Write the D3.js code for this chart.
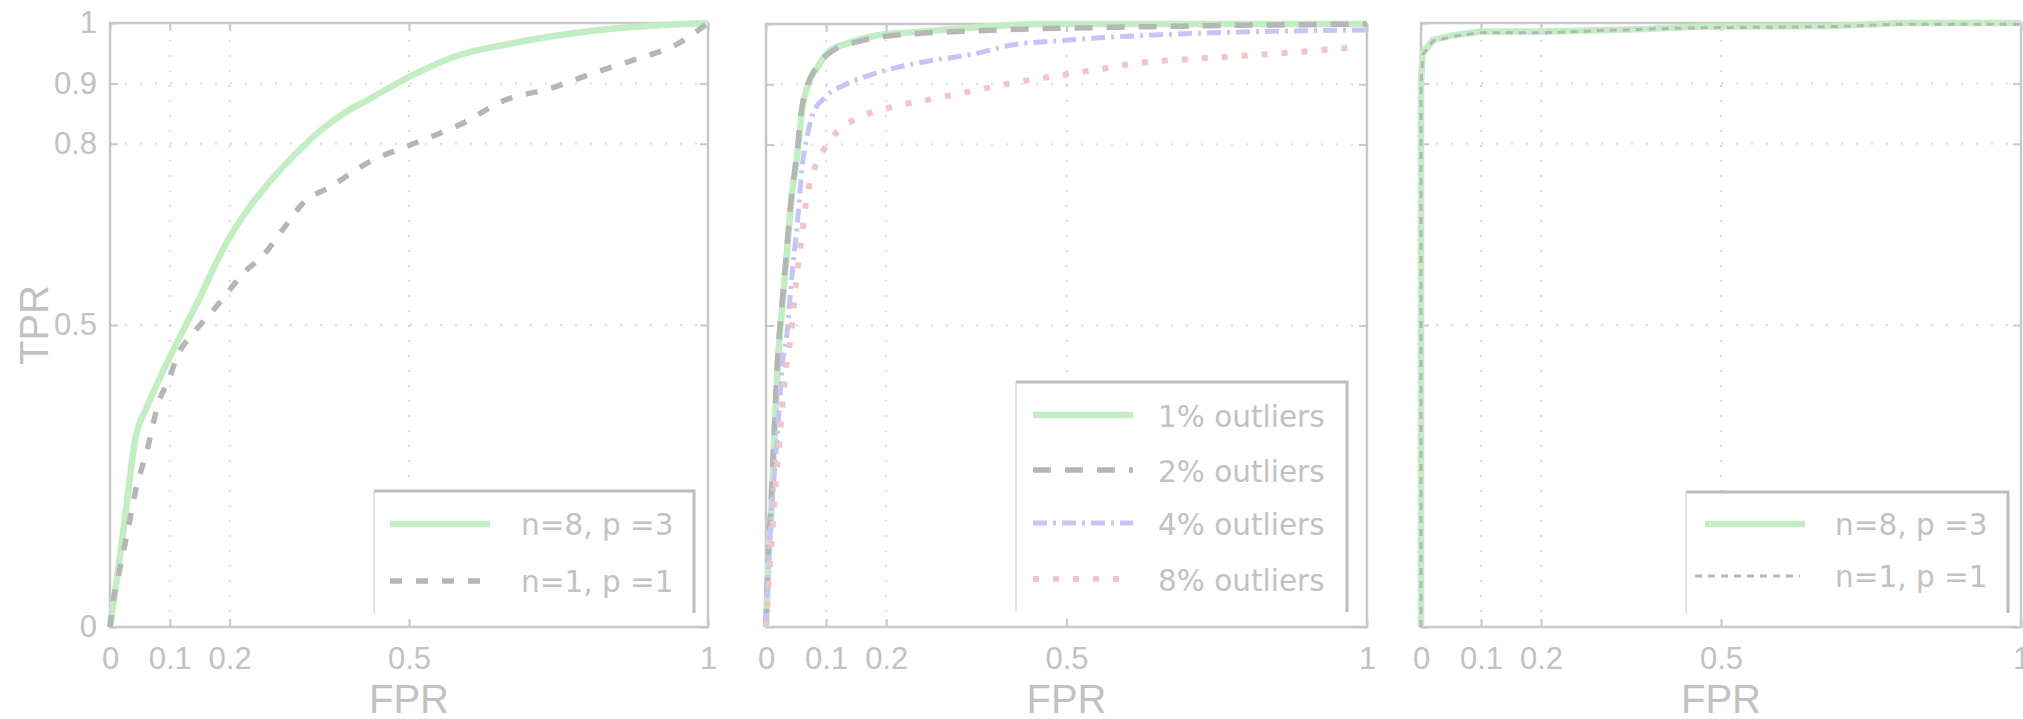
<html>
<head>
<script src="https://d3js.org/d3.v7.min.js"></script>
<style>
  body { margin: 0; background: white; }
  .tick text { fill: #c2c2c2; font: 31px "Liberation Sans", Arial, sans-serif; }
  .lbl { fill: #c2c2c2; font: 40px "Liberation Sans", Arial, sans-serif; }
  .leg { fill: #c2c2c2; font: 29.5px "DejaVu Sans", sans-serif; }
</style>
</head>
<body>
<svg width=2023 height=719></svg>
<script>
// tick values (same on all three panels)
var xTicks = [0, 0.1, 0.2, 0.5, 1];
var yTicks = [0, 0.5, 0.8, 0.9, 1];

// panel 1: n=8,p=3 vs n=1,p=1
var fpr_p1_n8 = [0, 0.012, 0.023, 0.033, 0.042, 0.06, 0.08, 0.104, 0.127, 0.154, 0.177, 0.2, 0.231, 0.261, 0.315, 0.353, 0.4, 0.43, 0.469, 0.507, 0.584, 0.66, 0.814, 1];
var tpr_p1_n8 = [0, 0.083, 0.166, 0.245, 0.31, 0.36, 0.405, 0.455, 0.5, 0.553, 0.602, 0.645, 0.692, 0.73, 0.788, 0.823, 0.856, 0.872, 0.894, 0.914, 0.947, 0.964, 0.988, 1];
var fpr_p1_n1 = [0, 0.004, 0.015, 0.031, 0.042, 0.062, 0.081, 0.1, 0.111, 0.139, 0.169, 0.2, 0.223, 0.254, 0.292, 0.323, 0.369, 0.43, 0.507, 0.584, 0.66, 0.737, 0.814, 0.876, 0.952, 1];
var tpr_p1_n1 = [0, 0.033, 0.089, 0.166, 0.222, 0.293, 0.371, 0.414, 0.445, 0.486, 0.52, 0.558, 0.586, 0.613, 0.662, 0.702, 0.729, 0.768, 0.8, 0.831, 0.872, 0.892, 0.919, 0.939, 0.967, 1];

// panel 2: outlier fractions
var fpr_o1 = [0, 0.004, 0.009, 0.0145, 0.02, 0.028, 0.035, 0.042, 0.053, 0.06, 0.07, 0.085, 0.105, 0.133, 0.196, 0.238, 0.469, 1];
var tpr_o1 = [0, 0.11, 0.194, 0.331, 0.443, 0.541, 0.624, 0.707, 0.79, 0.856, 0.9, 0.927, 0.955, 0.967, 0.983, 0.986, 1, 1];
var fpr_o2 = [0, 0.003, 0.008, 0.014, 0.019, 0.027, 0.034, 0.042, 0.052, 0.058, 0.068, 0.085, 0.11, 0.15, 0.203, 0.386, 0.6, 1];
var tpr_o2 = [0, 0.1, 0.2, 0.33, 0.44, 0.54, 0.62, 0.71, 0.79, 0.85, 0.895, 0.93, 0.955, 0.97, 0.98, 0.99, 0.995, 1];
var fpr_o4 = [0, 0.002, 0.0075, 0.018, 0.028, 0.035, 0.042, 0.053, 0.06, 0.067, 0.078, 0.098, 0.133, 0.169, 0.218, 0.273, 0.344, 0.414, 0.484, 0.554, 0.764, 1];
var tpr_o4 = [0, 0.056, 0.166, 0.305, 0.442, 0.487, 0.57, 0.679, 0.762, 0.806, 0.851, 0.878, 0.9, 0.914, 0.928, 0.939, 0.95, 0.966, 0.972, 0.977, 0.986, 0.99];
var fpr_o8 = [0, 0.002, 0.011, 0.022, 0.035, 0.042, 0.05, 0.06, 0.067, 0.081, 0.098, 0.12, 0.155, 0.204, 0.273, 0.344, 0.414, 0.484, 0.554, 0.624, 0.694, 0.834, 0.99];
var tpr_o8 = [0, 0.033, 0.166, 0.305, 0.442, 0.487, 0.57, 0.652, 0.707, 0.762, 0.795, 0.823, 0.845, 0.861, 0.875, 0.889, 0.903, 0.914, 0.925, 0.936, 0.941, 0.95, 0.962];

// panel 3
var fpr_p3_n8 = [0, 0, 0, 0.003, 0.02, 0.055, 0.1, 0.205, 0.376, 0.46, 0.683, 0.8, 1];
var tpr_p3_n8 = [0, 0.45, 0.9, 0.95, 0.972, 0.98, 0.986, 0.986, 0.99, 0.994, 0.995, 1, 1];
var fpr_p3_n1 = [0, 0, 0.003, 0.02, 0.055, 0.1, 0.205, 0.376, 0.46, 0.683, 0.8, 1];
var tpr_p3_n1 = [0, 0.9, 0.948, 0.97, 0.978, 0.984, 0.984, 0.99, 0.992, 0.994, 0.998, 0.998];

var legend1 = ["n=8, p =3", "n=1, p =1"];
var legend2 = ["1% outliers", "2% outliers", "4% outliers", "8% outliers"];

var green = {stroke: "#c3edc3", width: 6.5, dash: null};
var grayA = {stroke: "#b6b6b6", width: 5.5, dash: "12,14"};
var grayB = {stroke: "#b6b6b6", width: 5.5, dash: "18,14"};
var grayC = {stroke: "#b6b6b6", width: 3, dash: "7,6"};
var blue = {stroke: "#c6c6f6", width: 5, dash: "14,6,3,6"};
var red = {stroke: "#f1c6c6", width: 6, dash: "6,14"};

var svg = d3.select("svg");
var bottom = 627;
var axisCol = "#c8c8c8";

function panel(left, right, top, series, showY, smooth, leg) {
  var x = d3.scaleLinear().domain([0, 1]).range([left, right]);
  var y = d3.scaleLinear().domain([0, 1]).range([bottom, top]);
  var g = svg.append("g");

  // dotted grid
  g.selectAll(".vg").data(xTicks.filter(d => d > 0 && d < 1)).enter()
    .append("line")
    .attr("x1", d => x(d)).attr("x2", d => x(d))
    .attr("y1", y(0)).attr("y2", y(1))
    .attr("stroke", "#dadada").attr("stroke-width", 2).attr("stroke-dasharray", "2,13");
  g.selectAll(".hg").data(yTicks.filter(d => d > 0 && d < 1)).enter()
    .append("line")
    .attr("y1", d => y(d)).attr("y2", d => y(d))
    .attr("x1", x(0)).attr("x2", x(1))
    .attr("stroke", "#dadada").attr("stroke-width", 2).attr("stroke-dasharray", "2,13");

  g.append("rect")
    .attr("x", x(0)).attr("y", y(1))
    .attr("width", x(1) - x(0)).attr("height", y(0) - y(1))
    .attr("fill", "none").attr("stroke", axisCol).attr("stroke-width", 2.5);

  var ax = [
    g.append("g").attr("transform", "translate(0," + y(0) + ")")
      .call(d3.axisBottom(x).tickValues(xTicks).tickFormat(d => d).tickSizeInner(-8).tickSizeOuter(0).tickPadding(20)),
    g.append("g").attr("transform", "translate(0," + y(1) + ")")
      .call(d3.axisTop(x).tickValues(xTicks).tickFormat("").tickSizeInner(-8).tickSizeOuter(0)),
    g.append("g").attr("transform", "translate(" + x(0) + ",0)")
      .call(d3.axisLeft(y).tickValues(yTicks).tickFormat(showY ? (d => d) : "").tickSizeInner(-8).tickSizeOuter(0).tickPadding(13)),
    g.append("g").attr("transform", "translate(" + x(1) + ",0)")
      .call(d3.axisRight(y).tickValues(yTicks).tickFormat("").tickSizeInner(-8).tickSizeOuter(0))
  ];
  ax.forEach(function(a) {
    a.select(".domain").remove();
    a.selectAll("line").attr("stroke", axisCol).attr("stroke-width", 2);
  });

  var line = d3.line().x(d => x(d[0])).y(d => y(d[1]))
    .curve(smooth ? d3.curveMonotoneX : d3.curveLinear);
  series.forEach(function(s) {
    g.append("path")
      .datum(d3.zip(s.fpr, s.tpr))
      .attr("d", line)
      .attr("fill", "none")
      .attr("stroke", s.style.stroke)
      .attr("stroke-width", s.style.width)
      .attr("stroke-dasharray", s.style.dash);
  });

  g.append("text").attr("class", "lbl")
    .attr("x", (x(0) + x(1)) / 2).attr("y", 713)
    .style("text-anchor", "middle").text("FPR");

  // legend box
  var lg = g.append("g");
  lg.append("rect").attr("x", leg.x0).attr("y", leg.y0)
    .attr("width", leg.x1 - leg.x0).attr("height", leg.y1 - leg.y0).attr("fill", "white");
  lg.append("path").attr("d", "M" + leg.x0 + "," + leg.y0 + "H" + leg.x1 + "V" + leg.y1)
    .attr("fill", "none").attr("stroke", "#bcbcbc").attr("stroke-width", 3);
  lg.append("line").attr("x1", leg.x0).attr("x2", leg.x0).attr("y1", leg.y0).attr("y2", leg.y1)
    .attr("stroke", "#d8d8d8").attr("stroke-width", 1.5);
  leg.items.forEach(function(it, i) {
    var ly = leg.rows[i];
    lg.append("line")
      .attr("x1", it.lx0 || leg.lx0).attr("x2", it.lx1 || leg.lx1)
      .attr("y1", ly).attr("y2", ly)
      .attr("stroke", it.style.stroke)
      .attr("stroke-width", it.style.width)
      .attr("stroke-dasharray", it.style.dash);
    lg.append("text").attr("class", "leg")
      .attr("x", leg.tx).attr("y", ly + leg.dy)
      .text(it.label);
  });
}

panel(110, 708, 23, [
  {fpr: fpr_p1_n8, tpr: tpr_p1_n8, style: green},
  {fpr: fpr_p1_n1, tpr: tpr_p1_n1, style: grayA}
], true, true, {
  x0: 374, x1: 694, y0: 491, y1: 613, lx0: 390, lx1: 490, tx: 521, dy: 11,
  rows: [524, 581],
  items: [{label: legend1[0], style: green}, {label: legend1[1], style: grayA}]
});

panel(766, 1367, 24, [
  {fpr: fpr_o1, tpr: tpr_o1, style: green},
  {fpr: fpr_o2, tpr: tpr_o2, style: grayB},
  {fpr: fpr_o4, tpr: tpr_o4, style: blue},
  {fpr: fpr_o8, tpr: tpr_o8, style: red}
], false, true, {
  x0: 1016, x1: 1347, y0: 382, y1: 612, lx0: 1033, lx1: 1133, tx: 1158, dy: 12,
  rows: [415, 470, 523, 579],
  items: [
    {label: legend2[0], style: green},
    {label: legend2[1], style: grayB},
    {label: legend2[2], style: blue},
    {label: legend2[3], style: red}
  ]
});

panel(1421, 2021, 23, [
  {fpr: fpr_p3_n8, tpr: tpr_p3_n8, style: green},
  {fpr: fpr_p3_n1, tpr: tpr_p3_n1, style: grayC}
], false, false, {
  x0: 1686, x1: 2008, y0: 492, y1: 613, lx0: 1705, lx1: 1805, tx: 1835, dy: 11,
  rows: [524, 576],
  items: [{label: legend1[0], style: green}, {label: legend1[1], style: grayC, lx0: 1695, lx1: 1800}]
});

svg.append("text").attr("class", "lbl")
  .attr("transform", "translate(48,325) rotate(-90)")
  .style("text-anchor", "middle").text("TPR");
</script>
</body>
</html>
